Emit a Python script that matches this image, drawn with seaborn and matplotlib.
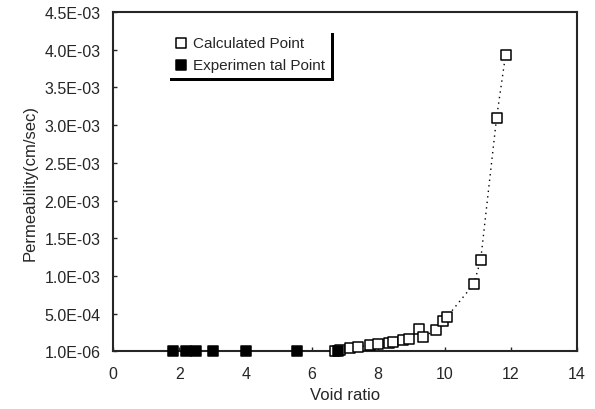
import matplotlib
matplotlib.use("Agg")
import matplotlib.pyplot as plt
import seaborn as sns
import pandas as pd

calc_x = [6.70, 6.86, 7.16, 7.40, 7.76, 8.00, 8.31, 8.43, 8.76, 8.94, 9.24, 9.34, 9.73, 9.94, 10.06, 10.88, 11.09, 11.57, 11.84]
calc_y = [1.0e-6, 2.0e-5, 4.0e-5, 6.0e-5, 8.0e-5, 9.0e-5, 1.1e-4, 1.2e-4, 1.5e-4, 1.6e-4, 3.0e-4, 1.9e-4, 2.8e-4, 4.0e-4, 4.5e-4, 8.9e-4, 1.21e-3, 3.10e-3, 3.93e-3]
exp_x = [1.8, 2.2, 2.5, 3.0, 4.0, 5.55, 6.8]
exp_y = [1.0e-6, 1.0e-6, 1.0e-6, 1.0e-6, 1.0e-6, 1.0e-6, 1.0e-6]
x_ticks = [0, 2, 4, 6, 8, 10, 12, 14]
y_ticks = [1.0e-6, 5.0e-4, 1.0e-3, 1.5e-3, 2.0e-3, 2.5e-3, 3.0e-3, 3.5e-3, 4.0e-3, 4.5e-3]
y_labels = ["1.0E-06", "5.0E-04", "1.0E-03", "1.5E-03", "2.0E-03", "2.5E-03", "3.0E-03", "3.5E-03", "4.0E-03", "4.5E-03"]

sns.set_style("ticks")
plt.rcParams['font.family'] = ['Liberation Sans', 'DejaVu Sans']

calc = pd.DataFrame({"x": calc_x, "y": calc_y})
exp = pd.DataFrame({"x": exp_x, "y": exp_y})

fig = plt.figure(figsize=(5.95, 4.10), dpi=100)
ax = fig.add_axes([0.19, 0.141, 0.78, 0.827])

sns.lineplot(data=calc, x="x", y="y", ax=ax, color="black", linestyle=(0, (1, 3)),
             linewidth=1.0, estimator=None, sort=True)
sns.scatterplot(data=calc, x="x", y="y", ax=ax, marker="s", s=48, facecolor="white",
                edgecolor="black", linewidth=1.1, label="Calculated Point", zorder=3,
                clip_on=False)
sns.scatterplot(data=exp, x="x", y="y", ax=ax, marker="s", s=48, color="black",
                edgecolor="black", linewidth=1.1, label="Experimen tal Point", zorder=4,
                clip_on=False)

ax.set_xlim(0, 14)
ax.set_ylim(1.0e-6, 4.5e-3)
ax.set_xticks(x_ticks)
ax.set_xticklabels([str(v) for v in x_ticks])
ax.set_yticks(y_ticks)
ax.set_yticklabels(y_labels)
ax.tick_params(direction="in", length=3, labelsize=11.5, width=1)
ax.tick_params(axis="y", pad=9)
ax.tick_params(axis="x", pad=11)
for s in ax.spines.values():
    s.set_linewidth(1.5)
    s.set_visible(True)
ax.set_xlabel("Void ratio", fontsize=12, labelpad=4)
ax.set_ylabel("Permeability(cm/sec)", fontsize=12, labelpad=5)

leg = ax.legend(loc="upper left", bbox_to_anchor=(0.1, 0.97), frameon=True,
                shadow={"color": "black", "alpha": 1.0},
                fancybox=False, fontsize=11, handletextpad=0.3, borderpad=0.4,
                labelspacing=0.5, handlelength=1.0)
leg.get_frame().set_edgecolor("white")
leg.get_frame().set_linewidth(0)

fig.savefig("out.png", dpi=100)
